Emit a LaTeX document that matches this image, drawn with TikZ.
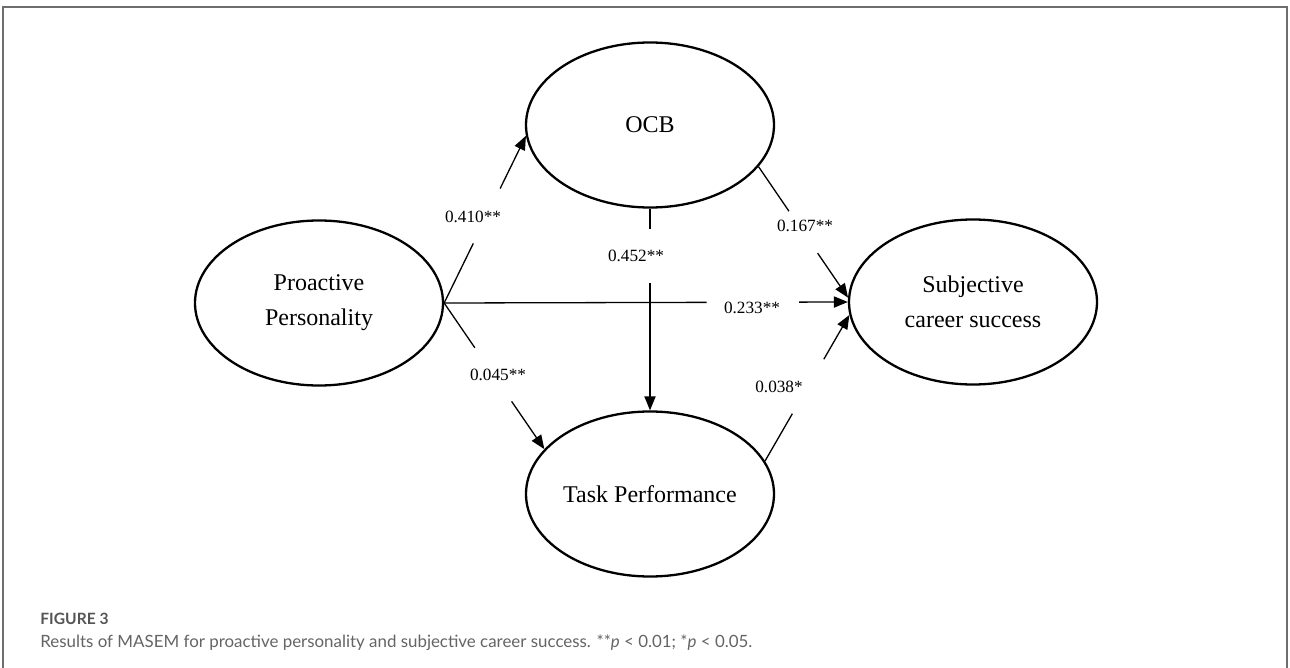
\documentclass[tikz,border=0pt]{standalone}
\usepackage{fontspec}
\setmainfont{Liberation Serif}
\newfontfamily\capfont{Lato}
\usetikzlibrary{shapes.geometric,arrows.meta,calc}
\definecolor{framegray}{RGB}{110,110,110}
\definecolor{capgray}{RGB}{100,100,100}
\definecolor{figgray}{RGB}{85,85,85}
\begin{document}
\begin{tikzpicture}[x=0.5pt,y=-0.5pt,
  latent/.style={ellipse, draw, line width=1.15pt, minimum width=124pt, minimum height=82.5pt, inner sep=0pt, align=center, font=\fontsize{12}{17.5}\selectfont},
  conn/.style={line width=0.65pt},
  arr/.style={conn, -{Triangle[length=7pt,width=5.6pt]}},
  coef/.style={font=\fontsize{8.6}{10}\selectfont, inner sep=0pt}]
\useasboundingbox (0,0) rectangle (1290,668);
\draw[framegray, line width=0.8pt] (3,668) -- (3,7) -- (1287,7) -- (1287,668);

\node[latent] (pp) at (319,303) {Proactive\\Personality};
\node[latent] (ocb) at (650,125) {OCB};
\node[latent] (scs) at (973,302) {Subjective\\career success};
\node[latent] (tp) at (650,494) {Task Performance};

% PP -> OCB
\draw[conn] (pp.east) -- ($(pp.east)!0.357!(ocb.185)$);
\draw[arr] ($(pp.east)!0.685!(ocb.185)$) -- (ocb.185);
\node[coef] (l1) at (473,217) {0.410**};

% PP -> SCS
\draw[conn] (pp.east) -- ($(pp.east)!0.650!(scs.west)$);
\draw[arr] ($(pp.east)!0.879!(scs.west)$) -- (scs.west);
\node[coef] (l2) at (752,308) {0.233**};

% PP -> TP
\draw[conn] (pp.east) -- ($(pp.east)!0.306!(tp.157.5)$);
\draw[arr] ($(pp.east)!0.673!(tp.157.5)$) -- (tp.157.5);
\node[coef] (l3) at (498,375) {0.045**};

% OCB -> TP
\draw[conn] (ocb.south) -- ($(ocb.south)!0.102!(tp.north)$);
\draw[arr] ($(ocb.south)!0.371!(tp.north)$) -- (tp.north);
\node[coef] (l4) at (636,256) {0.452**};

% OCB -> SCS
\draw[conn] (ocb.339) -- ($(ocb.339)!0.34!(scs.178)$);
\draw[arr] ($(ocb.339)!0.66!(scs.178)$) -- (scs.178);
\node[coef] (l5) at (805,226) {0.167**};

% TP -> SCS
\draw[conn] (tp.16.6) -- ($(tp.16.6)!0.324!(scs.186)$);
\draw[arr] ($(tp.16.6)!0.697!(scs.186)$) -- (scs.186);
\node[coef] (l6) at (779,387) {0.038*};

% caption
\node[anchor=west, font=\capfont\bfseries\fontsize{7.8}{9}\selectfont, text=figgray, inner sep=0pt] (fig) at (40,619) {FIGURE 3};
\node[anchor=west, font=\capfont\fontsize{8.45}{10}\selectfont, text=capgray, inner sep=0pt] (cap) at (40,643) {Results of MASEM for proactive personality and subjective career success. **\textit{p} < 0.01; *\textit{p} < 0.05.};
\end{tikzpicture}
\end{document}
